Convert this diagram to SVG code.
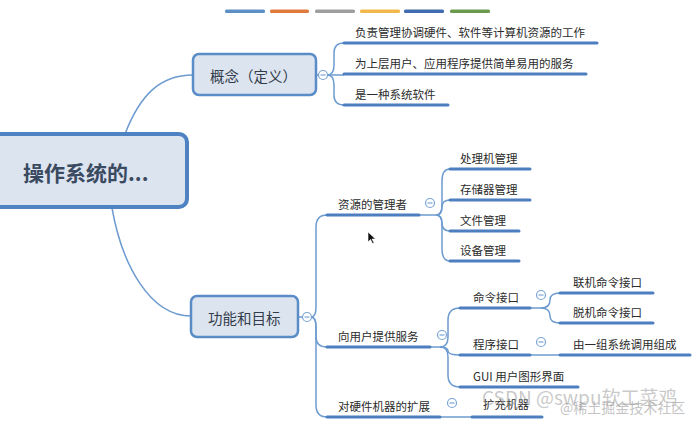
<svg xmlns="http://www.w3.org/2000/svg" width="692" height="421" viewBox="0 0 692 421">
<style>
  .t{font-family:"Noto Sans CJK SC","Noto Sans",sans-serif;fill:#2b2b2b;font-size:11.5px;dominant-baseline:central}
  .nt{font-family:"Noto Sans CJK SC","Noto Sans",sans-serif;fill:#333c4a;font-size:14.5px;dominant-baseline:central}
  .node{fill:#dce4f0;stroke:#5a8cc8;stroke-width:2.5}
  .ul{stroke:#4d7fc0;stroke-width:3;stroke-linecap:round;fill:none}
  .c{stroke:#6d9bd0;stroke-width:1.5;fill:none}
  .col{fill:#fff;stroke:#7aa3d4;stroke-width:1.2}
  .colm{stroke:#7aa3d4;stroke-width:1.2}
</style>
<rect width="692" height="421" fill="#fff"/>
<g id="legend-bars">
  <rect x="225" y="9.5" width="40" height="3.5" rx="1.5" fill="#5b8fc6"/>
  <rect x="270" y="9.5" width="39" height="3.5" rx="1.5" fill="#df7a3f"/>
  <rect x="315" y="9.5" width="40" height="3.5" rx="1.5" fill="#9e9e9e"/>
  <rect x="360" y="9.5" width="40" height="3.5" rx="1.5" fill="#f2b84b"/>
  <rect x="404" y="9.5" width="40" height="3.5" rx="1.5" fill="#3f6bb0"/>
  <rect x="450" y="9.5" width="40" height="3.5" rx="1.5" fill="#6b9a4e"/>
</g>
<g id="connectors">
  <path class="c" d="M125,134 C140,95 160,75 193,75"/>
  <path class="c" d="M112,208 C122,265 150,316 191,316"/>
  <path class="c" d="M316,75 H327"/>
  <path class="c" d="M327,75 Q334,75 334,65 L334,53 Q334,43 344,43"/>
  <path class="c" d="M327,75 H344"/>
  <path class="c" d="M327,75 Q334,75 334,85 L334,95 Q334,105 344,105"/>
  <path class="c" d="M298,317 H311"/>
  <path class="c" d="M311,317 Q316,317 316,307 L316,227 Q316,215 327,215"/>
  <path class="c" d="M311,317 Q316,317 316,327 L316,337 Q316,347 327,347"/>
  <path class="c" d="M311,317 Q316,317 316,327 L316,405 Q316,417 327,417"/>
  <path class="c" d="M419,215 H436"/>
  <path class="c" d="M436,215 Q442,215 442,205 L442,181 Q442,169 450,169"/>
  <path class="c" d="M436,215 Q442,215 442,207 Q442,200 450,200"/>
  <path class="c" d="M436,215 Q442,215 442,223 Q442,231 450,231"/>
  <path class="c" d="M436,215 Q442,215 442,225 L442,249 Q442,261 450,261"/>
  <path class="c" d="M430,347 H440"/>
  <path class="c" d="M440,347 Q448,347 448,337 L448,320 Q448,308 460,308"/>
  <path class="c" d="M440,347 Q448,347 448,351 Q448,355 460,355"/>
  <path class="c" d="M440,347 Q448,347 448,357 L448,375 Q448,387 460,387"/>
  <path class="c" d="M530,308 H541 Q550,308 550,300 Q550,293 560,293"/>
  <path class="c" d="M541,308 Q550,308 550,316 Q550,323 560,323"/>
  <path class="c" d="M530,355 H560"/>
  <path class="c" d="M440,417 H472"/>
</g>
<g id="root">
  <rect x="-10" y="134" width="197" height="73" rx="8" fill="#dce4f0" stroke="#4f82c2" stroke-width="4"/>
  <text x="23" y="172" font-family="Noto Sans CJK SC,Noto Sans,sans-serif" font-size="21" font-weight="bold" fill="#3a4a60" dominant-baseline="central">操作系统的...</text>
</g>
<g id="concept">
  <rect class="node" x="193" y="54" width="123" height="41" rx="6"/>
  <text class="nt" x="210" y="75">概念（定义）</text>
  <circle class="col" cx="323" cy="75" r="4.5"/><line class="colm" x1="320.5" y1="75" x2="325.5" y2="75"/>
</g>
<g id="concept-1"><text class="t" x="355" y="32">负责管理协调硬件、软件等计算机资源的工作</text><line class="ul" x1="344" y1="43" x2="597" y2="43"/></g>
<g id="concept-2"><text class="t" x="355" y="63">为上层用户、应用程序提供简单易用的服务</text><line class="ul" x1="344" y1="74" x2="586" y2="74"/></g>
<g id="concept-3"><text class="t" x="355" y="94">是一种系统软件</text><line class="ul" x1="344" y1="105" x2="448" y2="105"/></g>
<g id="function">
  <rect class="node" x="191" y="296" width="107" height="41" rx="6"/>
  <text class="nt" x="208" y="317">功能和目标</text>
  <circle class="col" cx="307" cy="317" r="4.5"/><line class="colm" x1="304.5" y1="317" x2="309.5" y2="317"/>
</g>
<g id="resource">
  <text class="t" x="338" y="204">资源的管理者</text><line class="ul" x1="327" y1="215" x2="419" y2="215"/>
  <circle class="col" cx="430" cy="203" r="4.5"/><line class="colm" x1="427.5" y1="203" x2="432.5" y2="203"/>
</g>
<g id="res-1"><text class="t" x="460" y="158">处理机管理</text><line class="ul" x1="450" y1="169" x2="530" y2="169"/></g>
<g id="res-2"><text class="t" x="460" y="189">存储器管理</text><line class="ul" x1="450" y1="200" x2="530" y2="200"/></g>
<g id="res-3"><text class="t" x="460" y="220">文件管理</text><line class="ul" x1="450" y1="231" x2="519" y2="231"/></g>
<g id="res-4"><text class="t" x="460" y="250">设备管理</text><line class="ul" x1="450" y1="261" x2="519" y2="261"/></g>
<g id="service">
  <text class="t" x="338" y="336">向用户提供服务</text><line class="ul" x1="327" y1="347" x2="430" y2="347"/>
  <circle class="col" cx="442" cy="335" r="4.5"/><line class="colm" x1="439.5" y1="335" x2="444.5" y2="335"/>
</g>
<g id="cmd">
  <text class="t" x="473" y="297">命令接口</text><line class="ul" x1="460" y1="308" x2="530" y2="308"/>
  <circle class="col" cx="541" cy="295" r="4.5"/><line class="colm" x1="538.5" y1="295" x2="543.5" y2="295"/>
</g>
<g id="cmd-1"><text class="t" x="573" y="282">联机命令接口</text><line class="ul" x1="560" y1="293" x2="653" y2="293"/></g>
<g id="cmd-2"><text class="t" x="573" y="312">脱机命令接口</text><line class="ul" x1="560" y1="323" x2="653" y2="323"/></g>
<g id="prog">
  <text class="t" x="473" y="344">程序接口</text><line class="ul" x1="460" y1="355" x2="530" y2="355"/>
  <circle class="col" cx="541" cy="342" r="4.5"/><line class="colm" x1="538.5" y1="342" x2="543.5" y2="342"/>
</g>
<g id="prog-1"><text class="t" x="573" y="344">由一组系统调用组成</text><line class="ul" x1="560" y1="355" x2="690" y2="355"/></g>
<g id="gui"><text class="t" x="473" y="376">GUI 用户图形界面</text><line class="ul" x1="460" y1="387" x2="578" y2="387"/></g>
<g id="hardware">
  <text class="t" x="338" y="406">对硬件机器的扩展</text><line class="ul" x1="327" y1="417" x2="440" y2="417"/>
  <circle class="col" cx="452" cy="403" r="4.5"/><line class="colm" x1="449.5" y1="403" x2="454.5" y2="403"/>
</g>
<g id="hw-1"><text class="t" x="483" y="404">扩充机器</text><line class="ul" x1="472" y1="417" x2="542" y2="417"/></g>
<g id="cursor"><path d="M368,232 L368,242 L370.5,239.5 L372.5,243.5 L374,242.8 L372,239 L375.5,239 Z" fill="#111" stroke="#fff" stroke-width="0.6"/></g>
<g id="watermark" font-family="Noto Sans CJK SC,Noto Sans,sans-serif" dominant-baseline="central">
  <text x="482" y="396" font-size="19" fill="#9a9a9a" fill-opacity="0.55">CSDN @swpu软工菜鸡</text>
  <text x="560" y="407" font-size="14" fill="#9a9a9a" fill-opacity="0.6">@稀土掘金技术社区</text>
</g>
</svg>
